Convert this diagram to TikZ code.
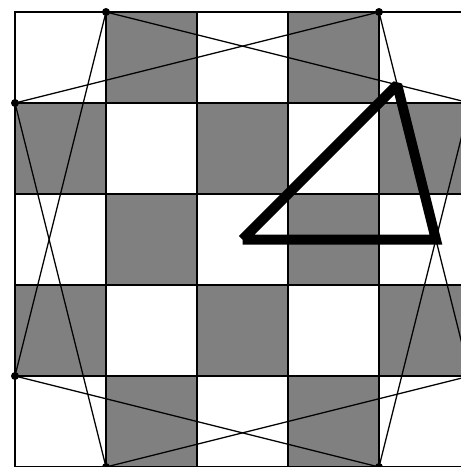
\documentclass[tikz,border=0pt]{standalone}
\begin{document}
\begin{tikzpicture}[x=0.5pt,y=-0.5pt,
  cell/.style={draw=black,line width=0.6pt},
  star/.style={draw=black,line width=0.65pt},
  dot/.style={circle,fill=black,inner sep=0pt,minimum size=4pt},
  tri/.style={draw=black,line width=5pt,line join=miter,miter limit=2}]
\useasboundingbox (0,0) rectangle (461,467);
\clip (0,0) rectangle (461,467);
\fill[white] (0,0) rectangle (461,467);
\begin{scope}[shift={(15,12)},x=45.5pt,y=-45.5pt]
  \foreach \i in {0,...,4} {
    \foreach \j in {0,...,4} {
      \pgfmathtruncatemacro\mypar{mod(\i+\j,2)}
      \ifnum\mypar=1
        \filldraw[fill=gray,cell] (\i,\j) rectangle ++(1,1);
      \else
        \draw[cell] (\i,\j) rectangle ++(1,1);
      \fi
    }
  }
  \coordinate (p1) at (1,0);
  \coordinate (p2) at (4,0);
  \coordinate (p3) at (5,1);
  \coordinate (p4) at (5,4);
  \coordinate (p5) at (4,5);
  \coordinate (p6) at (1,5);
  \coordinate (p7) at (0,4);
  \coordinate (p8) at (0,1);
  \draw[star] (p1) -- (p3);
  \draw[star] (p1) -- (p7);
  \draw[star] (p2) -- (p8);
  \draw[star] (p2) -- (p4);
  \draw[star] (p3) -- (p5);
  \draw[star] (p4) -- (p6);
  \draw[star] (p5) -- (p7);
  \draw[star] (p6) -- (p8);
  \coordinate (c) at (2.5,2.5);
  \coordinate (t) at (4.2,0.8);
  \coordinate (r) at (4.625,2.5);
  \draw[tri] (c) -- (t) -- (r) -- (c);
  \foreach \k in {1,...,8} { \node[dot] (d\k) at (p\k) {}; }
\end{scope}
\end{tikzpicture}
\end{document}
